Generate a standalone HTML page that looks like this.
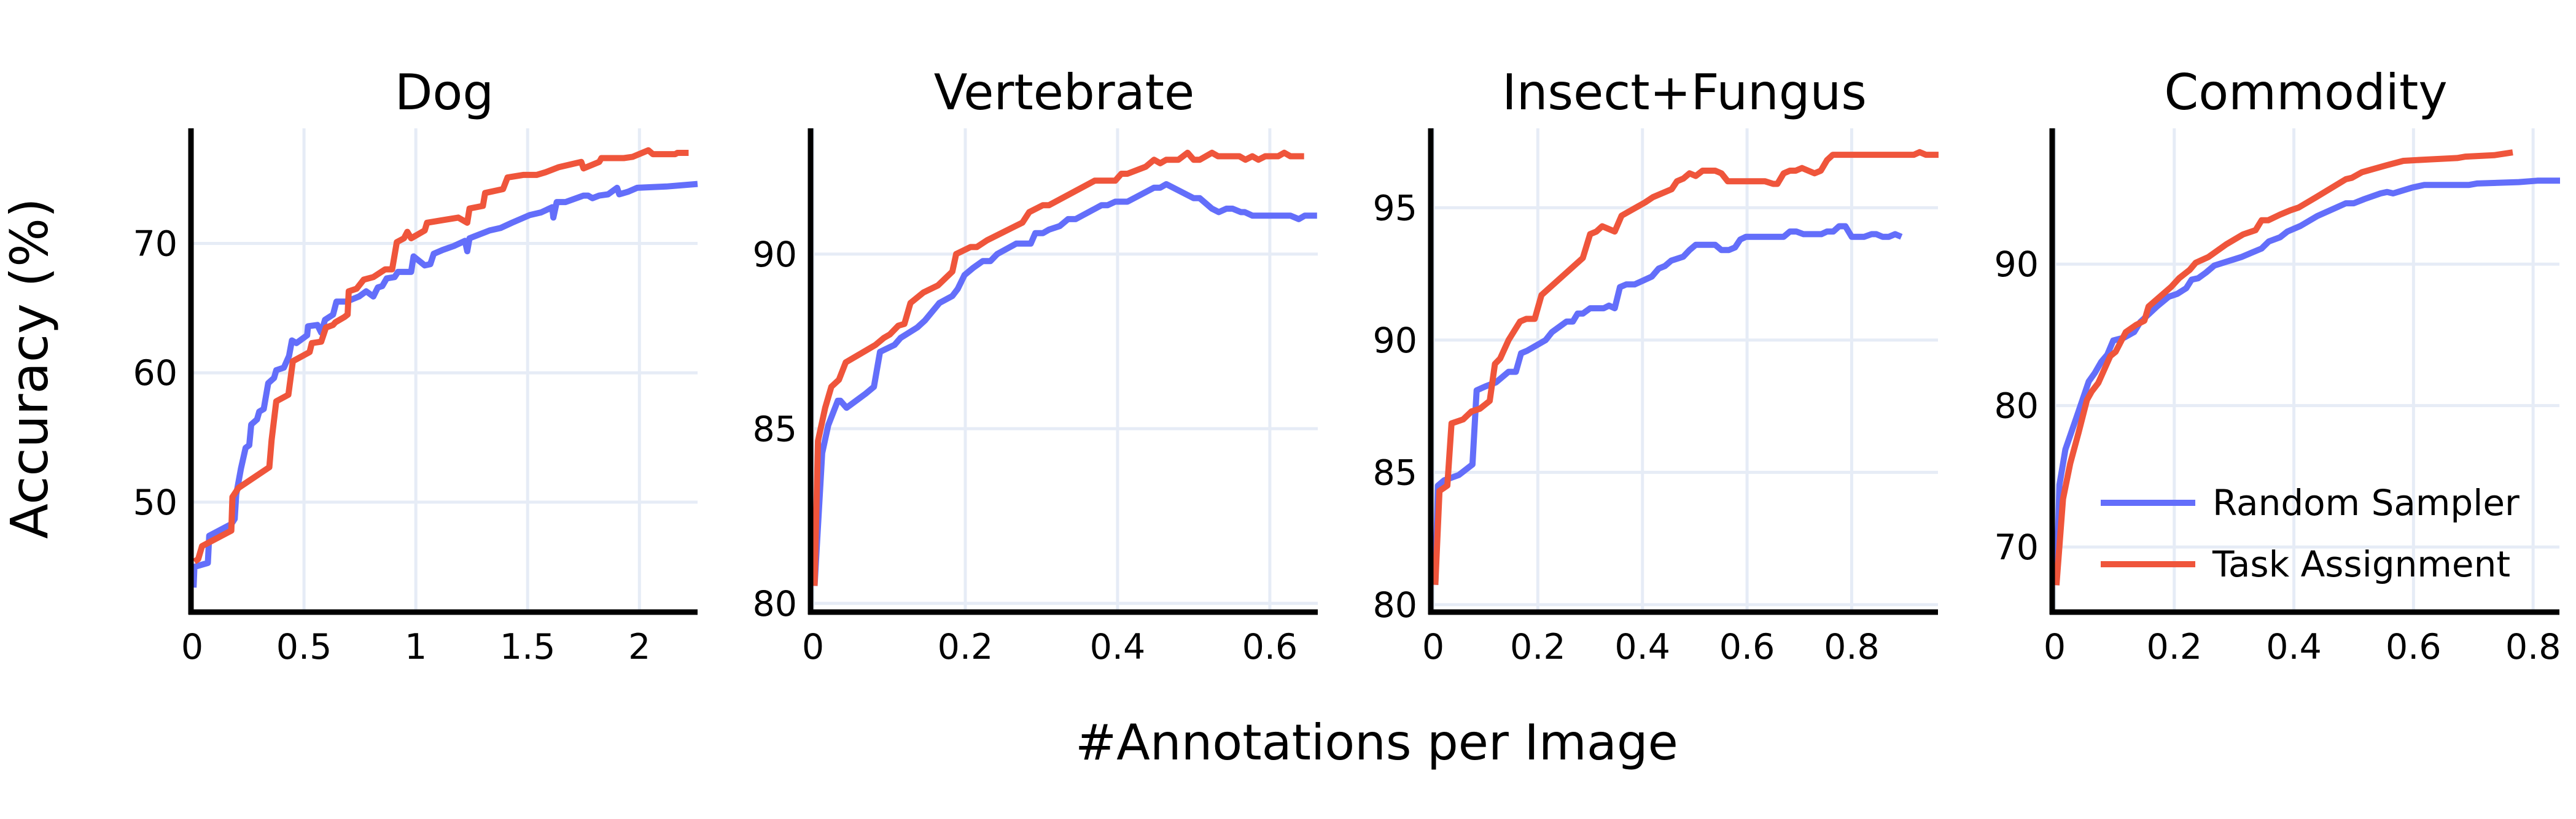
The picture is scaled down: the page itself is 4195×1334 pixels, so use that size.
<!DOCTYPE html>
<html><head><meta charset="utf-8"><style>
html,body{margin:0;padding:0;background:#fff;}
svg{display:block;font-family:"DejaVu Sans","Liberation Sans",sans-serif;}
</style></head><body>
<svg id="fig" width="4195" height="1334" viewBox="0 0 4195 1334" xmlns="http://www.w3.org/2000/svg">
<text x="48" y="600" font-size="84" text-anchor="middle" dominant-baseline="central" transform="rotate(-90 48 600)">Accuracy (%)</text>
<text x="2242" y="1237" font-size="80" text-anchor="middle">#Annotations per Image</text>
<g id="legend">
<line x1="3421" y1="819" x2="3575" y2="819" stroke="#636efa" stroke-width="10"/>
<text x="3603" y="839" font-size="58">Random Sampler</text>
<line x1="3421" y1="919" x2="3575" y2="919" stroke="#ef553b" stroke-width="10"/>
<text x="3603" y="939" font-size="58">Task Assignment</text>
</g>
</svg>
<script>
// ---- data ----
const panelTitles = ["Dog","Vertebrate","Insect+Fungus","Commodity"];
const dogRandomX = [0.006,0.01,0.07,0.076,0.175,0.19,0.197,0.218,0.239,0.255,0.264,0.29,0.3,0.32,0.34,0.366,0.376,0.41,0.433,0.446,0.466,0.514,0.518,0.56,0.577,0.594,0.63,0.645,0.69,0.746,0.778,0.81,0.83,0.85,0.87,0.905,0.92,0.979,0.99,1.04,1.065,1.08,1.12,1.17,1.22,1.23,1.24,1.33,1.38,1.43,1.51,1.56,1.61,1.615,1.63,1.67,1.75,1.77,1.79,1.82,1.86,1.9,1.91,1.95,1.99,2.12,2.26];
const dogRandomY = [43.4,45.0,45.3,47.4,48.3,48.7,50.6,52.6,54.2,54.4,56.0,56.4,57.0,57.2,59.2,59.6,60.2,60.4,61.3,62.5,62.3,62.9,63.6,63.7,63.1,64.1,64.5,65.5,65.5,65.9,66.3,65.9,66.6,66.7,67.3,67.4,67.8,67.8,69.0,68.3,68.4,69.2,69.5,69.8,70.2,69.4,70.4,71.0,71.2,71.6,72.2,72.4,72.8,72.0,73.2,73.2,73.7,73.7,73.5,73.7,73.8,74.3,73.8,74.0,74.3,74.4,74.6];
const dogTaskX = [0.01,0.027,0.044,0.175,0.18,0.207,0.345,0.355,0.376,0.43,0.45,0.525,0.535,0.577,0.598,0.63,0.64,0.68,0.695,0.70,0.735,0.767,0.81,0.863,0.894,0.915,0.947,0.962,0.979,1.04,1.05,1.12,1.19,1.23,1.24,1.3,1.31,1.39,1.41,1.48,1.54,1.58,1.64,1.74,1.75,1.82,1.83,1.93,1.97,2.04,2.06,2.16,2.17,2.22];
const dogTaskY = [45.4,45.6,46.6,47.8,50.4,51.1,52.7,54.8,57.8,58.3,60.9,61.6,62.3,62.4,63.5,63.7,63.9,64.3,64.5,66.3,66.5,67.2,67.4,68.0,68.0,70.1,70.4,70.9,70.4,71.0,71.6,71.8,72.0,71.6,72.7,72.9,73.9,74.2,75.1,75.3,75.3,75.5,75.9,76.3,75.8,76.3,76.6,76.6,76.7,77.2,76.9,76.9,77.0,77.0];
const vertRandomX = [0.002,0.012,0.02,0.0325,0.036,0.044,0.069,0.08,0.088,0.107,0.115,0.137,0.147,0.166,0.183,0.19,0.199,0.21,0.223,0.233,0.242,0.267,0.286,0.292,0.302,0.31,0.324,0.335,0.345,0.379,0.387,0.397,0.413,0.448,0.456,0.464,0.5,0.508,0.524,0.533,0.543,0.551,0.562,0.567,0.577,0.627,0.638,0.646,0.662];
const vertRandomY = [80.5,84.3,85.1,85.8,85.8,85.6,86.0,86.2,87.2,87.4,87.6,87.9,88.1,88.6,88.8,89.0,89.4,89.6,89.8,89.8,90.0,90.3,90.3,90.6,90.6,90.7,90.8,91.0,91.0,91.4,91.4,91.5,91.5,91.9,91.9,92.0,91.6,91.6,91.3,91.2,91.3,91.3,91.2,91.2,91.1,91.1,91.0,91.1,91.1];
const vertTaskX = [0.002,0.0065,0.016,0.024,0.034,0.043,0.082,0.093,0.101,0.112,0.12,0.128,0.145,0.164,0.183,0.188,0.207,0.215,0.229,0.275,0.284,0.302,0.31,0.37,0.397,0.405,0.413,0.437,0.448,0.456,0.464,0.48,0.492,0.5,0.508,0.524,0.532,0.56,0.568,0.577,0.585,0.594,0.611,0.619,0.627,0.645];
const vertTaskY = [80.5,84.65,85.6,86.2,86.4,86.9,87.4,87.6,87.7,87.95,88.0,88.6,88.9,89.1,89.5,90.0,90.2,90.2,90.4,90.9,91.2,91.4,91.4,92.1,92.1,92.3,92.3,92.5,92.7,92.6,92.7,92.7,92.9,92.7,92.7,92.9,92.8,92.8,92.7,92.8,92.7,92.8,92.8,92.9,92.8,92.8];
const insRandomX = [0.004,0.009,0.021,0.049,0.075,0.083,0.1,0.12,0.144,0.158,0.168,0.18,0.215,0.227,0.255,0.267,0.276,0.286,0.3,0.326,0.336,0.347,0.357,0.369,0.385,0.418,0.431,0.443,0.455,0.478,0.49,0.502,0.539,0.551,0.565,0.577,0.587,0.598,0.67,0.682,0.694,0.708,0.742,0.753,0.765,0.776,0.788,0.8,0.824,0.838,0.847,0.859,0.871,0.883,0.895];
const insRandomY = [80.75,84.5,84.7,84.9,85.3,88.1,88.25,88.4,88.8,88.8,89.5,89.6,90.0,90.3,90.7,90.7,91.0,91.0,91.2,91.2,91.3,91.2,92.0,92.1,92.1,92.4,92.7,92.8,93.0,93.15,93.4,93.6,93.6,93.4,93.4,93.5,93.8,93.9,93.9,94.1,94.1,94.0,94.0,94.1,94.1,94.3,94.3,93.9,93.9,94.0,94.0,93.9,93.9,94.0,93.9];
const insTaskX = [0.004,0.012,0.027,0.035,0.057,0.073,0.089,0.108,0.118,0.128,0.144,0.166,0.178,0.194,0.207,0.286,0.3,0.312,0.323,0.347,0.36,0.405,0.42,0.456,0.466,0.478,0.49,0.502,0.515,0.539,0.551,0.563,0.634,0.65,0.658,0.67,0.682,0.693,0.705,0.729,0.741,0.753,0.764,0.919,0.93,0.942,0.966];
const insTaskY = [80.75,84.3,84.5,86.85,87.0,87.3,87.4,87.7,89.1,89.3,90.0,90.7,90.8,90.8,91.7,93.1,94.0,94.1,94.3,94.1,94.7,95.2,95.4,95.7,96.0,96.1,96.3,96.2,96.4,96.4,96.3,96.0,96.0,95.9,95.9,96.3,96.4,96.4,96.5,96.3,96.4,96.8,97.0,97.0,97.1,97.0,97.0];
const comRandomX = [0.003,0.008,0.018,0.04,0.057,0.067,0.078,0.088,0.098,0.116,0.133,0.143,0.171,0.191,0.205,0.22,0.229,0.24,0.253,0.267,0.312,0.329,0.346,0.358,0.377,0.389,0.411,0.439,0.487,0.5,0.518,0.545,0.556,0.566,0.597,0.618,0.693,0.706,0.776,0.807,0.845];
const comRandomY = [67.3,74.4,76.9,79.6,81.7,82.3,83.1,83.6,84.6,84.8,85.2,85.9,87.0,87.7,87.9,88.3,88.9,89.0,89.4,89.9,90.5,90.8,91.1,91.6,91.9,92.3,92.7,93.4,94.3,94.3,94.6,95.0,95.1,95.0,95.4,95.6,95.6,95.7,95.8,95.9,95.9];
const comTaskX = [0.003,0.014,0.026,0.04,0.054,0.062,0.073,0.093,0.102,0.119,0.136,0.15,0.157,0.195,0.208,0.226,0.236,0.257,0.287,0.315,0.336,0.346,0.357,0.377,0.394,0.408,0.436,0.487,0.497,0.514,0.556,0.583,0.625,0.673,0.687,0.735,0.766];
const comTaskY = [67.3,73.4,75.9,78.1,80.4,81.0,81.6,83.5,83.8,85.2,85.7,86.0,87.0,88.4,89.0,89.6,90.1,90.5,91.4,92.1,92.4,93.1,93.1,93.5,93.8,94.0,94.7,96.0,96.1,96.5,97.0,97.3,97.4,97.5,97.6,97.7,97.9];
const dogXTicks = [0,0.5,1,1.5,2];
const dogXTickLabels = ["0","0.5","1","1.5","2"];
const dogYTicks = [50,60,70];
const vertXTicks = [0,0.2,0.4,0.6];
const vertXTickLabels = ["0","0.2","0.4","0.6"];
const vertYTicks = [80,85,90];
const insXTicks = [0,0.2,0.4,0.6,0.8];
const insXTickLabels = ["0","0.2","0.4","0.6","0.8"];
const insYTicks = [80,85,90,95];
const comXTicks = [0,0.2,0.4,0.6,0.8];
const comXTickLabels = ["0","0.2","0.4","0.6","0.8"];
const comYTicks = [70,80,90];

// ---- layout (not data) ----
const panels = [
 {left:311,right:1136,x0:313,xd:[0,2.26],yd:[41.5,78.9],xt:dogXTicks,xl:dogXTickLabels,yt:dogYTicks,r:[dogRandomX,dogRandomY],t:[dogTaskX,dogTaskY],key:'dog'},
 {left:1320,right:2146,x0:1324,xd:[0,0.663],yd:[79.75,93.6],xt:vertXTicks,xl:vertXTickLabels,yt:vertYTicks,r:[vertRandomX,vertRandomY],t:[vertTaskX,vertTaskY],key:'vertebrate'},
 {left:2330,right:3156,x0:2334,xd:[0,0.965],yd:[79.72,98.0],xt:insXTicks,xl:insXTickLabels,yt:insYTicks,r:[insRandomX,insRandomY],t:[insTaskX,insTaskY],key:'insect-fungus'},
 {left:3342,right:4168,x0:3346,xd:[0,0.844],yd:[65.4,99.6],xt:comXTicks,xl:comXTickLabels,yt:comYTicks,r:[comRandomX,comRandomY],t:[comTaskX,comTaskY],key:'commodity'}
];
const TOP=209, BOT=997;
const NS="http://www.w3.org/2000/svg";
const svg=document.getElementById('fig');
const legend=document.getElementById('legend');
function mk(tag,attrs,parent){const e=document.createElementNS(NS,tag);for(const k in attrs)e.setAttribute(k,attrs[k]);(parent||svg).appendChild(e);return e;}
panels.forEach((p,i)=>{
  const g=mk('g',{});
  
  
  svg.insertBefore(g,legend);
  const sx=v=>p.x0+(v-p.xd[0])/(p.xd[1]-p.xd[0])*(p.right-p.x0);
  const sy=v=>BOT-(v-p.yd[0])/(p.yd[1]-p.yd[0])*(BOT-TOP);
  p.xt.forEach((v,j)=>{
    const gl=mk('line',{x1:sx(v),x2:sx(v),y1:TOP,y2:BOT,stroke:'#e6ecf6','stroke-width':5},g);
    
    
    const tl=mk('text',{x:sx(v),y:1073,'font-size':57,'text-anchor':'middle'},g);
    tl.textContent=p.xl[j];
    
    
  });
  p.yt.forEach(v=>{
    const gl=mk('line',{x1:p.left,x2:p.right,y1:sy(v),y2:sy(v),stroke:'#e6ecf6','stroke-width':5},g);
    
    
    const tl=mk('text',{x:p.left-22,y:sy(v)+20,'font-size':57,'text-anchor':'end'},g);
    tl.textContent=String(v);
    
    
  });
  const title=mk('text',{x:(p.left+p.right)/2,y:178,'font-size':80,'text-anchor':'middle'},g);
  title.textContent=panelTitles[i];
  
  
  [[p.r,'#636efa','random-sampler-line'],[p.t,'#ef553b','task-assignment-line']].forEach(([s,c,n])=>{
    const pts=s[0].map((x,k)=>sx(x).toFixed(1)+','+sy(s[1][k]).toFixed(1)).join(' ');
    const pl=mk('polyline',{points:pts,fill:'none',stroke:c,'stroke-width':10,'stroke-linejoin':'round'},g);
    
    
  });
  const ya=mk('line',{x1:p.left,x2:p.left,y1:TOP,y2:BOT+4,stroke:'#000','stroke-width':9},g);
  
  
  const xa=mk('line',{x1:p.left-4,x2:p.right,y1:BOT,y2:BOT,stroke:'#000','stroke-width':9},g);
  
  
});
</script>
</body></html>
